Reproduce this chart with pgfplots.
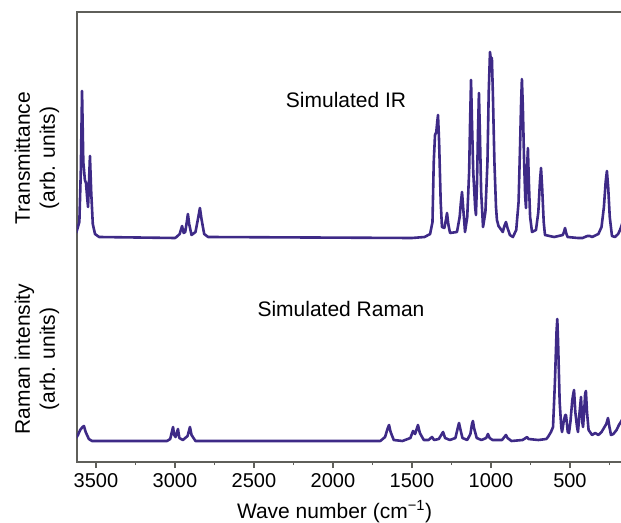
\documentclass[border=0pt]{standalone}
\usepackage{fontspec}
\setmainfont{Liberation Sans}
\usepackage{pgfplots}
\pgfplotsset{compat=1.18}
\definecolor{spec}{RGB}{62,42,135}
\definecolor{frame}{RGB}{95,95,90}
\newcommand{\labfont}{\fontsize{20}{25}\selectfont}
\newcommand{\txtfont}{\fontsize{21}{25}\selectfont}

\begin{document}
\begin{tikzpicture}
\begin{axis}[
    at={(0,0)}, anchor=south west,
    scale only axis,
    width=559.3pt, height=450pt,
    clip mode=individual,
    x dir=reverse,
    xmin=80, xmax=3620,
    ymin=0, ymax=450,
    ytick=\empty,
    xtick={500,1000,...,3500},
    minor xtick={250,750,...,3250},
    xtick pos=left,
    tick align=outside,
    major tick length=6pt,
    minor tick length=3pt,
    every tick/.style={frame, line width=1.2pt},
    axis line style={frame, line width=1.8pt},
    scaled x ticks=false,
    /pgf/number format/1000 sep={},
    /pgf/number format/assume math mode=true,
    ticklabel style={font=\labfont},
    xticklabel style={yshift=-2pt},
    ]

% simulated IR spectrum (shifted up)
\addplot[spec, line width=2.6pt, line join=round] coordinates {
(3625,229) (3605,240) (3596,290) (3588,371) (3580,300) (3570,282) (3563,279)
(3556,265) (3550,255) (3544,280) (3538,306) (3530,270) (3520,238) (3506,228)
(3480,225) (3000,224)
(2990,225) (2970,228) (2955,236) (2945,229) (2935,230) (2925,240) (2918,248)
(2910,238) (2895,227) (2870,230) (2852,245) (2842,254) (2832,243) (2815,228)
(2790,225) (1500,224)
(1420,225) (1385,228) (1370,240) (1362,300) (1354,327) (1346,330) (1340,340)
(1335,347) (1328,320) (1318,260) (1310,235)
(1295,234) (1285,242) (1278,249) (1270,238) (1259,229)
(1215,230) (1198,245) (1190,260) (1183,270) (1176,255) (1164,230)
(1150,245) (1138,290) (1132,340) (1126,382) (1120,340) (1112,290) (1100,255) (1095,247)
(1088,280) (1082,330) (1076,369) (1070,330) (1062,270) (1050,235)
(1035,250) (1022,300) (1014,370) (1006,410) (1000,402) (994,404) (988,370)
(978,300) (968,255) (962,242)
(952,236) (943,234) (925,230) (915,236) (905,240) (895,234) (880,227) (861,225)
(840,232) (825,260) (815,320) (809,360) (804,383) (798,355) (790,300) (783,265)
(778,254) (772,290) (766,314) (760,280) (752,245) (740,230)
(715,232) (700,250) (690,280) (683,294) (676,275) (666,240) (658,227)
(600,225) (545,227) (538,230) (531,234) (524,229) (515,225)
(450,224) (420,224) (390,226) (373,226) (360,225) (320,228)
(300,235) (285,255) (274,280) (266,291) (258,275) (248,245) (234,226)
(215,225) (195,228) (183,232) (170,238) (150,245)
};

% simulated Raman spectrum
\addplot[spec, line width=2.6pt, line join=round] coordinates {
(3625,24) (3614,27) (3600,32) (3585,35) (3576,36) (3565,30) (3545,23) (3525,21)
(3050,21)
(3030,23) (3012,35) (3005,27) (2996,25) (2981,33) (2972,24) (2950,22) (2920,26)
(2905,35) (2895,27) (2870,21) (1700,21)
(1670,25) (1655,33) (1645,37) (1635,30) (1615,22) (1560,21)
(1510,24) (1493,31) (1480,28) (1462,37) (1450,29) (1425,22) (1395,22) (1373,25)
(1360,22) (1330,23) (1303,30) (1290,24) (1260,22)
(1225,24) (1210,34) (1202,39) (1194,33) (1180,24) (1150,22) (1130,28) (1120,38)
(1114,41) (1107,34) (1090,24) (1060,22) (1030,24) (1019,28) (1008,24) (990,22)
(930,22) (915,25) (905,27) (895,24) (870,21) (800,22) (780,24) (772,25) (762,23)
(700,22) (650,23)
(639,25) (620,30) (607,35) (595,80) (585,130) (580,143) (575,120) (565,60)
(555,35) (550,30) (540,40) (530,47) (525,47) (520,40) (514,30) (506,29) (497,40)
(485,62) (479,68) (474,72) (466,50) (455,35) (449,30) (440,48) (430,65) (422,40)
(417,35) (410,50) (404,68) (399,71) (392,50) (382,32) (373,30) (360,27) (340,29)
(320,27) (300,30) (285,34) (270,38) (259,44) (250,35) (240,27) (225,28) (205,32)
(190,37) (178,40) (160,45) (150,48)
};

\node[font=\txtfont] at (axis cs:1917,362) {Simulated IR};
\node[font=\txtfont] at (axis cs:1949,153) {Simulated Raman};
\node[font=\txtfont, rotate=90, align=center] at ([xshift=-40pt]axis cs:3620,304)
    {Transmittance\\(arb. units)};
\node[font=\txtfont, rotate=90, align=center] at ([xshift=-40pt]axis cs:3620,103)
    {Raman intensity\\(arb. units)};
\node[font=\txtfont, anchor=base] at ([yshift=-56pt]axis cs:1990,0)
    {Wave number (cm\textsuperscript{−1})};
\end{axis}
\pgfresetboundingbox
\path (-77pt,-60pt) rectangle (544pt,462pt);
\end{tikzpicture}
\end{document}
